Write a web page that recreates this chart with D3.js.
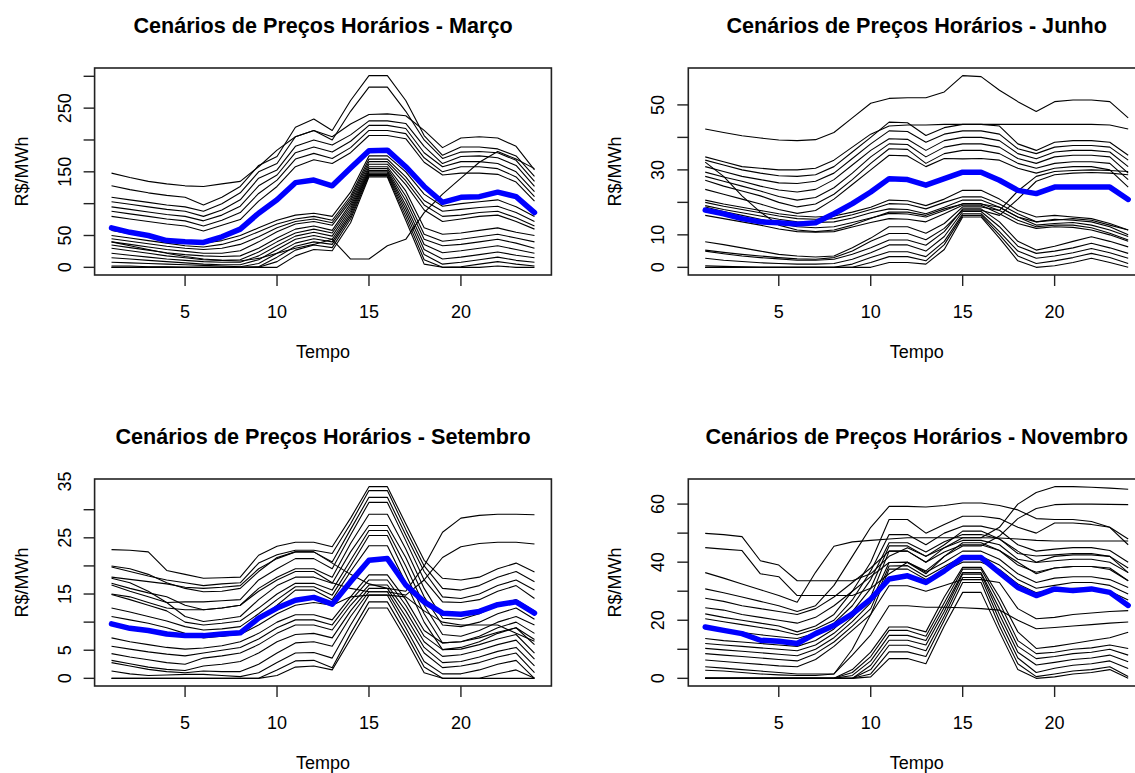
<!DOCTYPE html>
<html>
<head>
<meta charset="utf-8">
<script src="https://cdn.jsdelivr.net/npm/d3@7"></script>
<style>
  body { margin: 0; background: #fff; }
  svg { display: block; }
  text { font-family: "Liberation Sans", Arial, sans-serif; fill: #000; }
</style>
</head>
<body>
<svg id="chart" width="1135" height="773"></svg>
<script>
// Hours of the day (x axis)
const hours = [1,2,3,4,5,6,7,8,9,10,11,12,13,14,15,16,17,18,19,20,21,22,23,24];
const xTicks = [5,10,15,20];

// ---- Março (R$/MWh) ----
const marchScenarios = [
  [148,141,135,131,128,127,131,135,158,184,205,215,205,225,240,241,238,215,188,203,205,203,190,153],
  [128,122,117,113,110,98,110,127,160,174,220,233,215,262,301,301,262,207,176,189,189,186,175,143],
  [110,106,102,98,95,88,100,117,150,163,205,215,200,245,283,283,245,200,171,181,182,180,168,135],
  [103,99,95,91,88,80,90,106,140,153,190,200,192,208,230,230,226,190,163,174,175,172,160,127],
  [95,91,87,83,80,73,82,96,128,145,180,189,181,198,223,223,218,180,158,166,166,163,150,119],
  [88,84,80,76,73,65,74,86,116,137,170,179,171,188,215,215,210,172,150,158,158,155,142,111],
  [80,76,72,68,65,57,66,75,104,127,158,169,163,180,207,207,202,165,145,148,148,146,134,104],
  [58,53,48,44,40,38,42,50,62,74,82,85,80,118,175,175,150,115,96,100,103,106,95,80],
  [50,46,42,38,34,32,36,44,56,68,76,80,74,112,170,170,142,105,88,91,94,96,86,72],
  [45,41,37,33,30,28,30,36,48,62,72,76,70,108,166,166,136,98,80,82,86,88,78,65],
  [40,36,32,28,25,22,22,26,40,56,68,72,66,104,162,162,130,90,72,76,80,82,72,60],
  [35,31,27,23,20,18,17,18,30,46,60,65,58,100,158,158,120,62,52,54,58,62,55,50],
  [30,26,22,18,15,12,11,12,24,40,54,60,54,96,155,155,112,52,41,44,48,52,46,40],
  [22,19,16,13,11,9,8,8,18,34,49,55,49,92,152,152,105,44,34,36,40,44,38,30],
  [15,13,11,9,7,5,4,4,12,28,44,50,44,88,150,150,98,36,23,26,30,34,28,22],
  [8,7,6,5,4,3,2,1,6,22,38,45,40,84,148,148,92,28,13,16,20,24,19,15],
  [2,2,1,1,0,0,0,0,1,16,33,40,36,80,146,146,86,20,5,8,12,16,11,8],
  [0,0,0,0,0,0,0,0,0,9,27,35,31,76,144,144,80,12,0,1,5,9,5,2],
  [0,0,0,0,0,0,0,0,0,0,18,28,26,70,142,142,74,5,0,0,0,2,0,0],
  [40,34,28,22,17,13,11,10,14,22,30,36,44,13,13,34,44,86,115,140,165,182,170,155]
];
const marchMean = [62,55,50,42,40,39,48,60,85,106,133,137,128,156,183,184,158,127,102,110,111,118,111,86];
const marchYLabels = [0,50,150,250];

// ---- Junho ----
const juneScenarios = [
  [42.6,41.5,40.5,39.8,39.2,39,39.3,41.5,46,50.5,52,52.2,52.2,54,59,58.7,54.5,51,48,51,51.5,51.5,51,46],
  [34,32.5,31,30.5,30,30,30.5,33,37,41,43.5,43.8,43.8,44,44,44,44,44,44,44,44,44,43.8,42.6],
  [33,31.5,30,29,28.2,28,28.5,31,35.5,40,44.7,44.5,40.6,43,44,44,43.5,38,36,38.5,39,39,38.5,34.5],
  [31,29.5,28,27,26,25.8,26.5,29,33.5,38,42,41.8,38.5,41,42,42,41,36.5,35,37,37.5,37.5,37,33],
  [29.3,27.8,26.5,25,23.8,23.2,24,27,31.5,36,39.6,39.4,36,39,40,40,39,35,33.4,35.5,36,36,35.5,31],
  [28,26.5,25,23.5,21.8,20.7,21.5,24.5,29,34,38,37.8,34,37,38,38,37,33.5,32,34,34.5,34.5,34,29],
  [26.8,25,23.5,22,20,18.6,19.5,22.5,27,32,36.5,36.3,32,35,36,36,35,32,30.5,32,32.5,32.5,32,27],
  [24,22.5,21,19.5,17.8,16.6,17.5,21,25.5,30,34.5,34.3,31,33.5,33.4,33.5,33,30.5,29,30.5,31,31,30,24.7],
  [32.4,28,22,17,13,11.5,11,11.5,13,15,17,17,16,18,19.5,19.5,18.5,15.5,14,14.5,15,14.5,13,11.5],
  [20.7,19.5,18.5,17.5,16.5,15.8,15.5,15.8,17,18.5,20.7,20.5,19,21,23.7,23.7,21,17.5,15.5,16,15.5,15,13.5,11.5],
  [20,18.8,17.8,16.8,15.8,15,14.8,15,16.2,17.8,19.6,19.4,18,20,21.7,21.7,19.5,16.5,14,14.8,14.5,14,12.5,10],
  [19,17.8,16.8,15.8,14.8,14,13.8,14,15.2,16.8,18,17.8,16.5,18.5,20.7,20.7,18.5,15.5,13,13.5,13.8,13,11.5,9.5],
  [18.6,17.2,16,14.8,13.5,12.5,12.2,12.5,13.8,15.2,16.6,16.4,15.5,17.5,19.6,19.6,17.5,14.5,12.5,13,13,12.2,10.5,8.4],
  [16,15,14,13,11.8,11,10.8,11,12.4,13.8,15,14.8,14,16.5,19.1,19.1,16.5,13.5,12,12.5,12.3,11.5,10,8],
  [7.9,7,6,5,4,3.5,3.2,3.5,6,9,12.5,12.5,10.5,13.5,18.6,18.6,17.5,23.5,28,29.5,29.8,30,29.8,29.5],
  [5.3,4.6,4,3.5,3,2.6,2.5,3,5,8,10.4,10.4,8.5,12,17.6,17.6,16,21,26.5,28.5,29,29.2,29,28.5],
  [5,4.2,3.5,3,2.6,2.2,2.2,2.5,4,6,8.4,8.4,6.8,11,18,18,14,8,5.3,6.5,8,9.4,8,6.3],
  [2.8,2.2,1.8,1.4,1.2,1,1,1.2,2.5,4.5,6.9,6.9,5,9.5,17.2,17.2,12.5,6.5,4.3,5,6,7.4,6,4.3],
  [0.5,0.3,0.2,0,0,0,0,0,1,3,4.8,4.8,3.3,8,16.5,16.5,11,5,2.8,3.5,4.5,5.8,4.5,2.8],
  [0,0,0,0,0,0,0,0,0,1.5,3.3,3.3,2,7,16,16,10,3.5,1.2,2,3,4.3,3,1.2],
  [0,0,0,0,0,0,0,0,0,0,1.5,1.5,1,5.5,15.5,15.5,9,2,0,0.5,1.5,2.8,1.5,0]
];
const juneMean = [17.6,16.5,15,14,13.7,13.3,13.7,16.5,19.6,23.2,27.3,27,25.3,27.3,29.3,29.3,26.8,23.7,22.7,24.7,24.7,24.7,24.7,20.9];
const juneYLabels = [0,10,30,50];

// ---- Setembro ----
const septScenarios = [
  [22.9,22.8,22.5,19.2,18.5,17.8,17.9,18,21.9,23.5,24.2,24.2,23.4,28.5,34.1,34.1,27.5,21,17.8,17.5,18,19.5,20.5,18.9],
  [19.8,19,18.2,17.5,17,16.5,16.8,17,20.5,22,22.8,22.8,22.2,27.5,33.4,33.4,26.5,20,16,15.7,16.5,18,19,17.2],
  [18,17.6,17.2,16.8,16.2,16,16.2,16.5,19.5,21.3,22.5,22.5,20.7,26.5,32.2,32.2,25.5,19,14.5,14.2,15,16.5,17.5,15.7],
  [17.8,17,15.5,13.5,13.6,13.6,13.8,14,17.5,19.5,21.3,21.3,19.5,25.5,31.3,31.3,24.5,17.5,13.6,13.5,14,15.5,16.5,14.2],
  [16.9,16,15.2,14.5,13,12.2,12.5,13,16,18,19.5,19.5,18,24,29.2,29.2,23,16,10.7,10.5,11.5,13,14,12],
  [16.6,15.5,14.5,13.5,11,10.1,10.5,11,14,16.5,18,18,16.9,22.5,27.2,27.2,21.5,14.5,9.5,9.2,10,11.5,12.5,10.5],
  [14.9,14,13,12,10,9.5,9.8,10.2,12.5,15,16.9,16.9,15.7,21,26.3,26.3,20,13,7.8,7.5,8.5,10,11,9.5],
  [12.5,11.8,11,10.2,9.2,8.6,8.8,9.2,11.5,14,16.3,16.3,14.8,20,25.4,25.4,18.5,11.5,6.3,6.5,7.5,9,10,8],
  [11,10.4,9.8,9,8,7.2,7.5,8,10.5,13,15.7,15.7,14,19,23.6,23.6,17,10,5.1,5.5,6.5,8,9,6.9],
  [20,19.5,18.5,17,16,15.4,15.5,16,19,21.5,22.5,22.5,20.5,18.5,16.8,16,15.5,20,26,28.5,29,29.2,29.2,29.1],
  [15,14.5,13.5,12.5,12.2,12.2,12.5,13,15.5,17.5,19,19,17,16,15.4,15.4,14.8,17.5,21.5,23.4,24,24.2,24.2,23.9],
  [9.5,9,8.6,8.2,7.8,7.5,7.5,7.8,9.5,11.5,13,13.5,13,14.5,14.8,14.8,14.5,12,10,9.5,9.5,9.5,8,6.6],
  [7.2,6.5,6,5.5,5.2,5.4,5.8,6.5,8,10,11.3,11.3,10.4,14.5,18.4,18.4,14,8.5,6.3,6.5,7.2,8.2,9,6],
  [5.7,5.2,4.7,4.3,4,4.5,5,5.5,7,9,10.4,10.4,9.5,13.8,17.5,17.5,13,7.5,5.1,5.2,6,7,7.8,4.5],
  [4.4,3.8,3.3,2.8,2.5,3.6,4,4.5,6,8,9.5,9.5,8.6,13,16.6,16.6,12,6.5,3.9,4.2,5,6,6.8,3.4],
  [3.2,2.6,2,1.6,1.4,2.2,2.5,3,4.5,6.5,7.8,8,7.2,12,16,16,11,5.5,2.8,3,3.8,4.8,5.5,2.2],
  [2.8,2.2,1.6,1.2,1,1.3,1.2,1.2,2.5,4.5,6.3,6.5,5.7,11,15.4,15.4,10,4.5,1.9,2.2,2.8,3.8,4.5,1],
  [1.3,0.8,0.5,0.6,0.7,0.7,0.5,0.3,1,2.8,4.5,4.6,3.6,9.5,14.8,14.8,9,3,0.8,0.8,1.5,2.5,3.2,0],
  [0,0,0,0,0,0,0,0,0,1.5,3.1,3.2,1.9,8,13.6,13.6,8,2,0,0,0,0.8,1.5,0],
  [0,0,0,0,0,0,0,0,0,0.5,2,2.2,1.5,7,12.5,12.5,7,1,0,0,0,0,0,0]
];
const septMean = [9.7,8.9,8.5,7.9,7.6,7.6,7.9,8.1,10.7,12.5,13.9,14.4,13.2,17.2,21,21.3,16.6,13.6,11.6,11.4,11.9,13.1,13.6,11.6];
const septYLabels = [0,5,15,25,35];

// ---- Novembro ----
const novScenarios = [
  [49.9,49.5,48.8,40.5,39,33.6,33.6,33.6,33.6,36,42,45,42,46,50.7,50.7,48,43.8,40,42,42.5,42.5,42,36.4],
  [45,44.5,44,36,35,28.5,28.5,28.5,28.5,31,36,40,37,42,46.7,46.7,44,40,36,38,38.5,38.5,38,33.6],
  [36.4,34.5,32.5,30.5,28.5,26.2,36.5,45.5,47,47.5,48,48.4,48.4,48.4,48.4,48.4,48.3,48,47.5,47.3,47.3,47.3,47.3,47.3],
  [30.8,29.5,28,26.5,25,23,25,32,42,52,59.2,59.2,59,59.5,60.4,60.4,59.5,58,55,54.7,54.7,54,52,48],
  [27.6,26.5,25,24,23,22,24,28,33,38,43.8,43.8,40,45,48.4,48.4,52,60,64,66,66,65.8,65.5,65.1],
  [24.3,23.5,22,21,20,19,21,25,30,35,39.9,39.9,36,42,45.6,45.6,49,55,58.5,59.8,60,60,59.9,59.8],
  [22.2,21,20,19,18,16,18,22,30,40,54.7,54.7,50,53,55.8,55.8,55,52,50,53.5,53.5,53,52,46],
  [20.5,19.5,18.5,17.5,16.5,15,17,20,27,37,49.5,49.5,46,50,52.4,52.4,51,46,43.8,44.5,45,45,44,40],
  [17.5,16.5,15.8,15,14.3,13.7,15.5,19,25,34,46.7,46.7,43.5,47,49.5,49.5,48,43,42.1,42.5,43,43,42,38],
  [13.7,13,12.5,12,11.5,11,13,17,23,31,45.6,45.6,42,45,47.5,47.5,46,41,39.9,40.5,41,41,40,36.4],
  [12,11.5,11,10.5,10,9.5,11.5,15.5,21,28,43.8,43.8,40,43.5,46,46,44,39,36.5,38,38.5,38.5,37.5,33.6],
  [10.3,9.8,9.3,8.8,8.3,7.8,10,14,19.5,26,39.9,40,36.5,40,43.8,43.8,41,36,33,34.5,35,35,34,31.3],
  [8.5,8,7.5,7,6.5,6,8.5,12.5,18,24,38.7,38.8,35,38.5,42,42,39,34,31,32,33,33,32,29],
  [6.3,5.8,5.3,4.8,4.3,4,6.5,11,16.5,22,37.6,37.6,34,37,40,40,37.5,32.5,29.5,30.5,31,31,30,27],
  [4,3.5,3,2.5,2,1.5,1.5,1.5,10,22,31.9,31.9,30,32,34,34,33,24,20.5,21,22,22.5,23,23.3],
  [2.8,2.5,2,1.5,1.2,1,1,1.5,8,15,25,25,24.5,24.5,24.3,24,23.5,20,17.1,17.5,18,18.5,19,19.4],
  [0,0,0,0,0,0,0,0,3,9,17.7,17.7,16,28,38.2,38.2,28,16,10.3,11,12,13,14,15.9],
  [0,0,0,0,0,0,0,0,2,7.5,16.5,16.5,14.5,26,37.6,37.6,26,13,8.5,9,10,10.5,11.5,10.3],
  [0,0,0,0,0,0,0,0,1,6,14.8,14.8,13,24.5,36.4,36.4,24,11,6.8,7.5,8.5,9,10,8],
  [0,0,0,0,0,0,0,0,0,4.5,13.1,13.1,11.5,23,35.9,35.9,22,9,4.6,5.5,6.5,7,8,5.7],
  [0,0,0,0,0,0,0,0,0,3,11.4,11.4,9.5,21.5,34.7,34.7,20,7,2,3.5,4.5,5,6,3.4],
  [0,0,0,0,0,0,0,0,0,1.5,9.1,9.1,7.5,20,33,33,18,5,0.6,1.5,2.5,3,4,0.6],
  [0,0,0,0,0,0,0,0,0,0.5,6.8,6.8,5,18,29.6,29.6,16,3,0,0.5,1.5,2,3,0]
];
const novMean = [17.7,16.5,15.4,13.1,12.8,12,15.4,18.2,22.2,27.3,34.2,35.3,33,37,41.6,41.6,36.4,31.3,28.5,30.8,30.2,30.8,29.6,25.1];
const novYLabels = [0,20,40,60];

const titles = [
  "Cenários de Preços Horários - Março",
  "Cenários de Preços Horários - Junho",
  "Cenários de Preços Horários - Setembro",
  "Cenários de Preços Horários - Novembro"
];
const yTickSteps = [50, 10, 5, 10];
const xLabel = "Tempo";
const yLabel = "R$/MWh";

// ---- layout ----
const colLeft = [94.6, 688.3];
const rowTop = [68, 479];
const plotW = 456.8, plotH = 207;
const tickLen = 11;
const axisFont = 18, titleFont = 21.6;

const panels = [
  { title: titles[0], scen: marchScenarios, mean: marchMean, step: yTickSteps[0], labels: marchYLabels, col: 0, row: 0 },
  { title: titles[1], scen: juneScenarios,  mean: juneMean,  step: yTickSteps[1], labels: juneYLabels,  col: 1, row: 0 },
  { title: titles[2], scen: septScenarios,  mean: septMean,  step: yTickSteps[2], labels: septYLabels,  col: 0, row: 1 },
  { title: titles[3], scen: novScenarios,   mean: novMean,   step: yTickSteps[3], labels: novYLabels,   col: 1, row: 1 }
];

const svg = d3.select("#chart");

panels.forEach(p => {
  const x0 = colLeft[p.col], y0 = rowTop[p.row];
  const g = svg.append("g");

  // x: hours with a 4% margin on each side
  const xPad = 0.04 * (d3.max(hours) - d3.min(hours));
  const x = d3.scaleLinear()
    .domain([d3.min(hours) - xPad, d3.max(hours) + xPad])
    .range([x0, x0 + plotW]);

  // y: full data range with a 4% margin
  const all = p.scen.flat().concat(p.mean);
  const lo = d3.min(all), hi = d3.max(all);
  const yPad = 0.04 * (hi - lo);
  const y = d3.scaleLinear()
    .domain([lo - yPad, hi + yPad])
    .range([y0 + plotH, y0]);

  const line = d3.line()
    .x((d, i) => x(hours[i]))
    .y(d => y(d));

  // scenario paths
  g.append("g")
    .selectAll("path")
    .data(p.scen)
    .join("path")
    .attr("d", line)
    .attr("fill", "none")
    .attr("stroke", "#000")
    .attr("stroke-width", 1.1)
    .attr("stroke-linejoin", "round");

  // mean path
  g.append("path")
    .datum(p.mean)
    .attr("d", line)
    .attr("fill", "none")
    .attr("stroke", "#0000ff")
    .attr("stroke-width", 5.5)
    .attr("stroke-linejoin", "round")
    .attr("stroke-linecap", "round");

  // frame
  g.append("rect")
    .attr("x", x0).attr("y", y0)
    .attr("width", plotW).attr("height", plotH)
    .attr("fill", "none")
    .attr("stroke", "#222")
    .attr("stroke-width", 1.6);

  // x axis ticks + labels
  const xa = g.append("g");
  xa.selectAll("line").data(xTicks).join("line")
    .attr("x1", d => x(d)).attr("x2", d => x(d))
    .attr("y1", y0 + plotH).attr("y2", y0 + plotH + tickLen)
    .attr("stroke", "#222").attr("stroke-width", 1.4);
  xa.selectAll("text").data(xTicks).join("text")
    .attr("x", d => x(d)).attr("y", y0 + plotH + 37)
    .attr("text-anchor", "middle")
    .attr("dominant-baseline", "central")
    .attr("font-size", axisFont)
    .text(d => d);

  // y axis ticks + labels
  const yTicks = d3.range(0, hi + 1e-9, p.step).filter(v => v >= y.domain()[0] && v <= y.domain()[1]);
  const ya = g.append("g");
  ya.selectAll("line").data(yTicks).join("line")
    .attr("x1", x0 - tickLen).attr("x2", x0)
    .attr("y1", d => y(d)).attr("y2", d => y(d))
    .attr("stroke", "#222").attr("stroke-width", 1.4);
  ya.selectAll("text").data(p.labels).join("text")
    .attr("transform", d => `translate(${x0 - 30},${y(d)}) rotate(-90)`)
    .attr("text-anchor", "middle")
    .attr("dominant-baseline", "central")
    .attr("font-size", axisFont)
    .text(d => d);

  // titles
  g.append("text")
    .attr("x", x0 + plotW / 2).attr("y", y0 - 43)
    .attr("text-anchor", "middle")
    .attr("dominant-baseline", "central")
    .attr("font-size", titleFont)
    .attr("font-weight", "bold")
    .text(p.title);

  g.append("text")
    .attr("x", x0 + plotW / 2).attr("y", y0 + plotH + 77)
    .attr("text-anchor", "middle")
    .attr("dominant-baseline", "central")
    .attr("font-size", axisFont)
    .text(xLabel);

  g.append("text")
    .attr("transform", `translate(${x0 - 73},${y0 + plotH / 2}) rotate(-90)`)
    .attr("text-anchor", "middle")
    .attr("dominant-baseline", "central")
    .attr("font-size", axisFont)
    .text(yLabel);
});
</script>
</body>
</html>
